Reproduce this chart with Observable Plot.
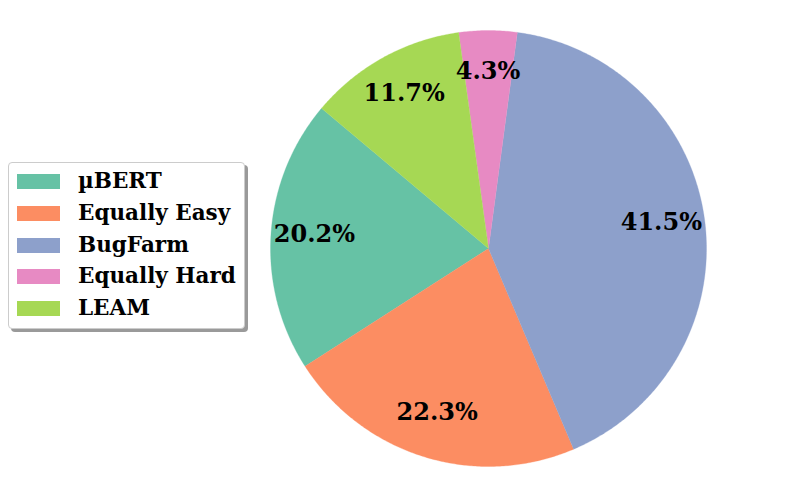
<!DOCTYPE html>
<html>
<head>
<meta charset="utf-8">
<script src="https://cdn.jsdelivr.net/npm/d3@7"></script>
<script src="https://cdn.jsdelivr.net/npm/@observablehq/plot@0.6"></script>
<style>
  html, body { margin: 0; padding: 0; background: #fff; }
  #wrap { position: relative; width: 797px; height: 495px; overflow: hidden; }
  #legend {
    position: absolute; left: 8px; top: 162px; width: 235px; height: 165px;
    border: 1px solid #cccccc; border-radius: 4px; background: #fff;
    box-shadow: 3px 3px 0 #9a9a9a;
    font-family: "DejaVu Serif", serif; font-weight: bold; font-size: 21.5px; color: #000;
  }
  .row { position: absolute; left: 0; height: 20px; }
  .sw { position: absolute; left: 8px; width: 43px; height: 15px; top: 2px; }
  .lb { position: absolute; left: 69px; top: -3px; white-space: nowrap; line-height: 24px; }
</style>
</head>
<body>
<div id="wrap"></div>
<script>
// ---- data ----
const labels = ["µBERT", "Equally Easy", "BugFarm", "Equally Hard", "LEAM"];
const shares = [20.2, 22.3, 41.5, 4.3, 11.7];
const colors = ["#66c2a5", "#fc8d62", "#8da0cb", "#e78ac3", "#a6d854"];
const startAngle = 140; // degrees, counter-clockwise from +x

// ---- geometry (polar -> unit circle coordinates) ----
const total = d3.sum(shares);
let acc = startAngle;
const slices = labels.map((name, i) => {
  const a0 = acc, a1 = acc + shares[i] / total * 360;
  acc = a1;
  return {name, value: shares[i], a0, a1};
});
const rad = d => d * Math.PI / 180;
const outline = [];
for (const s of slices) {
  outline.push({name: s.name, x: 0, y: 0});
  const n = Math.max(8, Math.ceil((s.a1 - s.a0) / 0.5));
  for (let k = 0; k <= n; k++) {
    const a = rad(s.a0 + (s.a1 - s.a0) * k / n);
    outline.push({name: s.name, x: Math.cos(a), y: Math.sin(a)});
  }
  outline.push({name: s.name, x: 0, y: 0});
}
const pct = 0.8;
const labelPts = slices.map(s => {
  const m = rad((s.a0 + s.a1) / 2);
  return {name: s.name, text: s.value.toFixed(1) + "%", x: pct * Math.cos(m), y: pct * Math.sin(m)};
});

const chart = Plot.plot({
  width: 797,
  height: 495,
  margin: 0,
  x: {domain: [-1, 1], range: [270, 706], axis: null},
  y: {domain: [-1, 1], range: [466, 30], axis: null},
  color: {domain: labels, range: colors},
  style: {background: "transparent"},
  marks: [
    Plot.line(outline, {x: "x", y: "y", z: "name", fill: "name", stroke: "name", strokeWidth: 0.3, curve: "linear"}),
    Plot.text(labelPts, {x: "x", y: "y", text: "text", fontSize: 24, fontWeight: "bold", dy: -3,
      fontFamily: "DejaVu Serif", fill: "black"})
  ]
});
const wrap = document.getElementById("wrap");
wrap.appendChild(chart);

// ---- legend ----
const leg = document.createElement("div");
leg.id = "legend";
labels.forEach((name, i) => {
  const row = document.createElement("div");
  row.className = "row";
  row.style.top = (9 + i * 31.8) + "px";
  const sw = document.createElement("div");
  sw.className = "sw";
  sw.style.background = colors[i];
  const lb = document.createElement("div");
  lb.className = "lb";
  lb.textContent = name;
  row.appendChild(sw);
  row.appendChild(lb);
  leg.appendChild(row);
});
wrap.appendChild(leg);
</script>
</body>
</html>
